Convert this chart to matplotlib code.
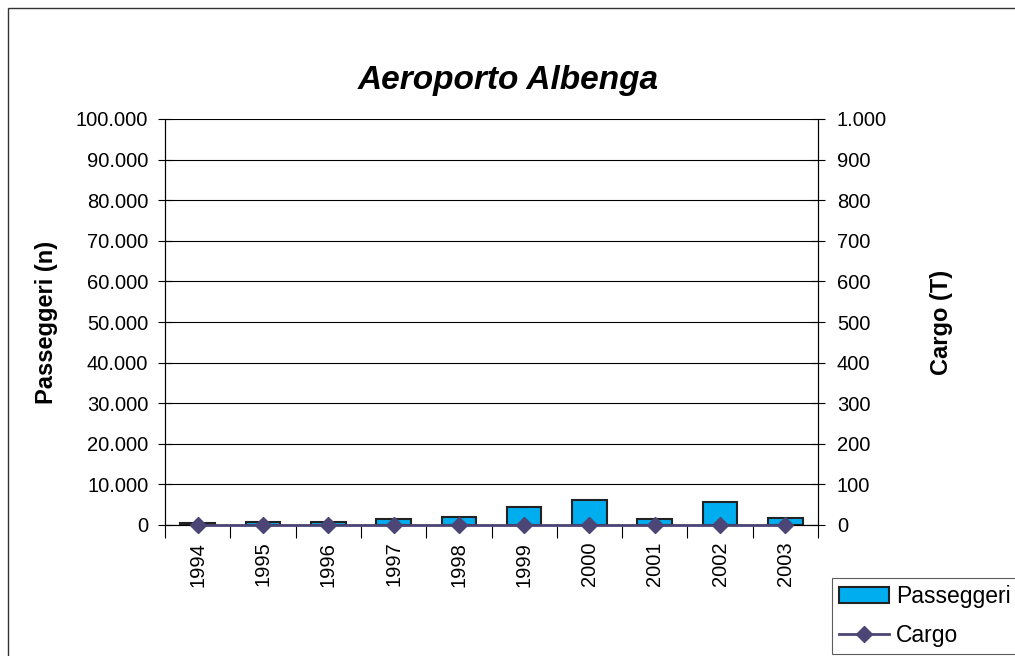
import matplotlib
matplotlib.use('Agg')
import matplotlib.pyplot as plt
from matplotlib.patches import Rectangle
from matplotlib.ticker import FuncFormatter, MultipleLocator
import numpy as np

# dati
anni = ['1994', '1995', '1996', '1997', '1998', '1999', '2000', '2001', '2002', '2003']
passeggeri = [400, 650, 800, 1550, 1900, 4500, 6200, 1450, 5600, 1800]
cargo = [0, 0, 0, 0, 0, 0, 0, 0, 0, 0]

BAR_COLOR = '#00AEEF'
LINE_COLOR = '#4B4675'


def punto_migliaia(v, pos):
  return f'{int(round(v)):,}'.replace(',', '.')


plt.rcParams['font.family'] = ['Liberation Sans', 'DejaVu Sans']

fig = plt.figure(figsize=(10.15, 6.56), dpi=100)
ax = fig.add_axes([165 / 1015, 1 - 525 / 656, 653 / 1015, 406 / 656])
ax2 = ax.twinx()

x = np.arange(len(anni))

# griglia + barre passeggeri
ax.set_ylim(0, 100000)
ax.yaxis.set_major_locator(MultipleLocator(10000))
ax.yaxis.set_major_formatter(FuncFormatter(punto_migliaia))
ax.grid(axis='y', color='black', lw=0.8, zorder=0)
ax.set_axisbelow(True)
bars = ax.bar(x, passeggeri, width=0.53, color=BAR_COLOR, edgecolor='#222222',
              lw=1.5, zorder=3, label='Passeggeri')

# linea cargo
ax2.set_ylim(0, 1000)
ax2.yaxis.set_major_locator(MultipleLocator(100))
ax2.yaxis.set_major_formatter(FuncFormatter(punto_migliaia))
line, = ax2.plot(x, cargo, color=LINE_COLOR, lw=2, marker='D', ms=8,
                 zorder=4, clip_on=False, label='Cargo')

ax.set_xlim(-0.5, len(anni) - 0.5)
ax.set_xticks(x)
ax.set_xticklabels(anni, rotation=90, fontsize=14.5)
ax.set_xticks(np.arange(-0.5, len(anni)), minor=True)
ax.tick_params(axis='x', which='major', length=0, pad=12)
ax.tick_params(axis='x', which='minor', length=9, width=0.8, direction='out')
ax.tick_params(axis='y', labelsize=14.5, length=10, width=0.8, direction='inout', pad=7)
ax2.tick_params(axis='y', labelsize=14.5, length=10, width=0.8, direction='inout', pad=8.5)

for a in (ax, ax2):
  for s in a.spines.values():
    s.set_linewidth(0.8)
ax.spines['top'].set_visible(False)
ax2.spines['top'].set_visible(False)
ax.spines['bottom'].set_color(LINE_COLOR)

ax.set_ylabel('Passeggeri (n)', fontsize=17, fontweight='bold', labelpad=13)
ax2.set_ylabel('Cargo (T)', fontsize=17, fontweight='bold', labelpad=31)
fig.text(508 / 1015, 1 - 80 / 656, 'Aeroporto Albenga',
         ha='center', va='center', fontsize=24, fontweight='bold', style='italic')

# legenda
leg = fig.legend([bars, line], ['Passeggeri', 'Cargo'], loc='upper left',
                 bbox_to_anchor=(832 / 1015, 1 - 578 / 656), frameon=True,
                 fancybox=False, edgecolor='#333333', fontsize=16.5,
                 handlelength=2.2, borderpad=0.3, labelspacing=0.7,
                 handletextpad=0.3, borderaxespad=0)
leg.get_frame().set_linewidth(0.8)

# bordo esterno
fig.patches.append(Rectangle((8 / 1015, -0.05), 1.2, 1 - 8 / 656 + 0.05,
                             transform=fig.transFigure, fill=False,
                             edgecolor='#333333', lw=1))

fig.savefig('out.png', dpi=100)
